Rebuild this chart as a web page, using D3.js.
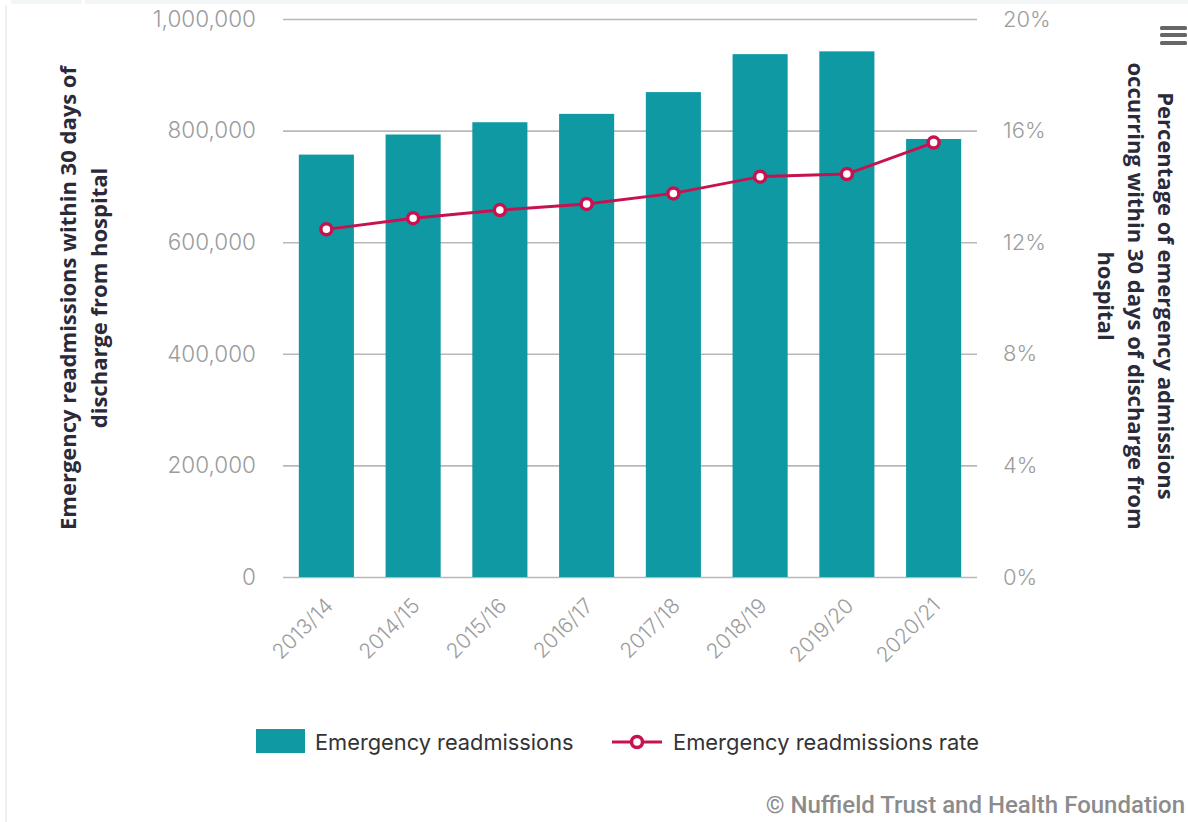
<!DOCTYPE html>
<html>
<head>
<meta charset="utf-8">
<script src="https://cdn.jsdelivr.net/npm/d3@7/dist/d3.min.js"></script>
<style>
  html, body { margin: 0; padding: 0; background: #fff; }
  svg { display: block; }
</style>
</head>
<body>
<svg id="chart" width="1188" height="822"></svg>
<script>
// Emergency readmissions within 30 days of discharge, England
const categories = ["2013/14", "2014/15", "2015/16", "2016/17", "2017/18", "2018/19", "2019/20", "2020/21"];
const readmissions = [757000, 793000, 815000, 830000, 869000, 937000, 942000, 785000];
const readmissionRate = [12.46, 12.86, 13.15, 13.37, 13.75, 14.35, 14.44, 15.57];
const leftTicks = [0, 200000, 400000, 600000, 800000, 1000000];
const rightTicks = [0, 4, 8, 12, 16, 20];

const TEAL = "#0f99a2";
const CRIMSON = "#c8124f";
const TITLE_COLOR = "#2b2a3a";
const TICK_COLOR = "#9c9c9c";
const BODY_FONT = "Inter, 'Open Sans', sans-serif";

const svg = d3.select("#chart");

// page frame: pale strip along the top and a faint rule at the left
svg.append("rect").attr("x", 11).attr("y", 0).attr("width", 71).attr("height", 4).attr("fill", "#f2f6f6");
svg.append("rect").attr("x", 85).attr("y", 0).attr("width", 1103).attr("height", 4).attr("fill", "#f2f6f6");
svg.append("rect").attr("x", 5).attr("y", 5).attr("width", 2).attr("height", 817).attr("fill", "#efefef");

const plot = { left: 283, right: 977, top: 19, bottom: 577 };

const x = d3.scaleBand()
  .domain(categories)
  .range([plot.left, plot.right])
  .paddingInner(0.365)
  .paddingOuter(0.1825);

const yLeft = d3.scaleLinear().domain([0, 1000000]).range([plot.bottom, plot.top]);
const yRight = d3.scaleLinear().domain([0, 20]).range([plot.bottom, plot.top]);

// horizontal grid
const grid = svg.append("g")
  .attr("transform", `translate(${plot.left},0)`)
  .call(d3.axisLeft(yLeft).tickValues(leftTicks).tickSize(-(plot.right - plot.left)).tickFormat(""));
grid.select(".domain").remove();
grid.selectAll("line").attr("stroke", "#b8b8b8").attr("stroke-width", 1.6);

// left axis labels
const leftAxis = svg.append("g")
  .attr("transform", `translate(256,0)`)
  .call(d3.axisLeft(yLeft).tickValues(leftTicks).tickSize(0).tickPadding(0).tickFormat(d3.format(",")));
leftAxis.select(".domain").remove();
leftAxis.selectAll("text")
  .attr("fill", TICK_COLOR)
  .style("font-family", BODY_FONT)
  .style("font-size", "22.5px")
  .style("font-weight", 300);

// right axis labels
const rightAxis = svg.append("g")
  .attr("transform", `translate(1003,0)`)
  .call(d3.axisRight(yRight).tickValues(rightTicks).tickSize(0).tickPadding(0).tickFormat(d => d + "%"));
rightAxis.select(".domain").remove();
rightAxis.selectAll("text")
  .attr("fill", TICK_COLOR)
  .style("font-family", BODY_FONT)
  .style("font-size", "22px")
  .style("font-weight", 300);

// columns
svg.append("g").selectAll("rect")
  .data(categories)
  .join("rect")
  .attr("x", d => x(d))
  .attr("width", x.bandwidth())
  .attr("y", (d, i) => yLeft(readmissions[i]))
  .attr("height", (d, i) => yLeft(0) - yLeft(readmissions[i]))
  .attr("fill", TEAL);

// category labels, rotated
const xAxis = svg.append("g")
  .attr("transform", `translate(0,${plot.bottom})`)
  .call(d3.axisBottom(x).tickSize(0).tickPadding(0));
xAxis.select(".domain").remove();
xAxis.selectAll("text")
  .attr("fill", TICK_COLOR)
  .attr("text-anchor", "end")
  .attr("dy", 0)
  .attr("y", 0)
  .attr("transform", "translate(8,30) rotate(-45)")
  .style("font-family", BODY_FONT)
  .style("font-size", "21px")
  .style("font-weight", 300);

// rate line
const cx = d => x(d) + x.bandwidth() / 2;
const line = d3.line()
  .x((d, i) => cx(categories[i]))
  .y(d => yRight(d));

svg.append("path")
  .datum(readmissionRate)
  .attr("d", line)
  .attr("fill", "none")
  .attr("stroke", CRIMSON)
  .attr("stroke-width", 3);

svg.append("g").selectAll("circle")
  .data(readmissionRate)
  .join("circle")
  .attr("cx", (d, i) => cx(categories[i]))
  .attr("cy", d => yRight(d))
  .attr("r", 5.5)
  .attr("fill", "#fff")
  .attr("stroke", CRIMSON)
  .attr("stroke-width", 3.5);

// axis titles
const titleFont = "'Open Sans', sans-serif";
const leftTitle = svg.append("text")
  .attr("transform", "translate(76,298) rotate(-90)")
  .attr("text-anchor", "middle")
  .attr("fill", TITLE_COLOR)
  .style("font-family", titleFont)
  .style("font-size", "22px")
  .style("font-weight", 700);
leftTitle.append("tspan").attr("x", 0).attr("dy", 0).text("Emergency readmissions within 30 days of");
leftTitle.append("tspan").attr("x", 0).attr("dy", 31).text("discharge from hospital");

const rightTitle = svg.append("text")
  .attr("transform", "translate(1158,296) rotate(90)")
  .attr("text-anchor", "middle")
  .attr("fill", TITLE_COLOR)
  .style("font-family", titleFont)
  .style("font-size", "22px")
  .style("font-weight", 700);
rightTitle.append("tspan").attr("x", 0).attr("dy", 0).text("Percentage of emergency admissions");
rightTitle.append("tspan").attr("x", 0).attr("dy", 30).text("occurring within 30 days of discharge from");
rightTitle.append("tspan").attr("x", 0).attr("dy", 30).text("hospital");

// legend
const legend = svg.append("g").style("font-family", BODY_FONT);
legend.append("rect").attr("x", 256).attr("y", 729).attr("width", 49).attr("height", 24).attr("fill", TEAL);
legend.append("text").attr("x", 315).attr("y", 750).attr("fill", "#333")
  .style("font-size", "21.8px").text("Emergency readmissions");
legend.append("line").attr("x1", 612).attr("x2", 662).attr("y1", 742).attr("y2", 742)
  .attr("stroke", CRIMSON).attr("stroke-width", 3);
legend.append("circle").attr("cx", 637).attr("cy", 742).attr("r", 5.5)
  .attr("fill", "#fff").attr("stroke", CRIMSON).attr("stroke-width", 3.5);
legend.append("text").attr("x", 673).attr("y", 750).attr("fill", "#333")
  .style("font-size", "21.9px").text("Emergency readmissions rate");

// credits
svg.append("text")
  .attr("x", 1185).attr("y", 813)
  .attr("text-anchor", "end")
  .attr("fill", "#8c8c8c")
  .style("font-family", "Roboto, sans-serif")
  .style("font-size", "24px")
  .style("font-weight", 500)
  .text("© Nuffield Trust and Health Foundation");

// menu icon
svg.append("g").selectAll("rect")
  .data([26, 33, 41])
  .join("rect")
  .attr("x", 1160).attr("y", d => d)
  .attr("width", 27).attr("height", 4).attr("rx", 1.5)
  .attr("fill", "#666");
</script>
</body>
</html>
